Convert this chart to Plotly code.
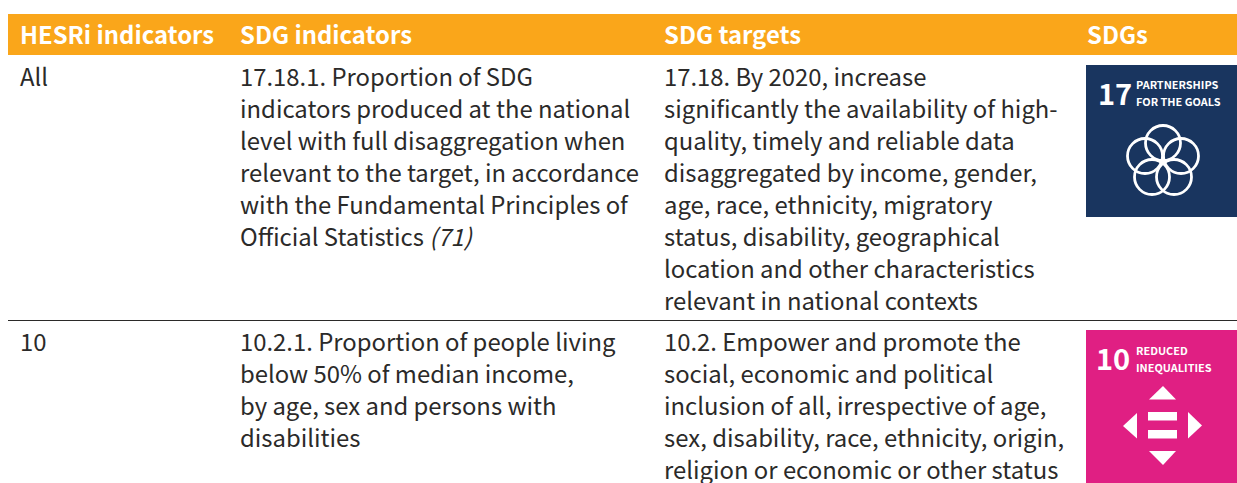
import plotly.graph_objects as go

PAGE_W, PAGE_H = 1237, 483
FONT = "Noto Sans CJK JP"
INK = "#2b2a29"
ORANGE = "#faa61a"
NAVY = "#19355f"
PINK = "#e01f83"

headers = ["HESRi indicators", "SDG indicators", "SDG targets", "SDGs"]
column_x = [19, 239, 662.5, 1086]

row1_hesri = ["All"]
row1_indicator = [
    "17.18.1. Proportion of SDG",
    "indicators produced at the national",
    "level with full disaggregation when",
    "relevant to the target, in accordance",
    "with the Fundamental Principles of",
    "Official Statistics <i>(71)</i>",
]
row1_target = [
    "17.18. By 2020, increase",
    "significantly the availability of high-",
    "quality, timely and reliable data",
    "disaggregated by income, gender,",
    "age, race, ethnicity, migratory",
    "status, disability, geographical",
    "location and other characteristics",
    "relevant in national contexts",
]
row2_hesri = ["10"]
row2_indicator = [
    "10.2.1. Proportion of people living",
    "below 50% of median income,",
    "by age, sex and persons with",
    "disabilities",
]
row2_target = [
    "10.2. Empower and promote the",
    "social, economic and political",
    "inclusion of all, irrespective of age,",
    "sex, disability, race, ethnicity, origin,",
    "religion or economic or other status",
]

ROW1_Y, ROW2_Y, LINE = 75, 340, 32
FS = 23.85

fig = go.Figure()
fig.add_trace(go.Scatter(x=[0, PAGE_W], y=[0, PAGE_H], mode="markers",
                         marker=dict(opacity=0), hoverinfo="skip", showlegend=False))


def text(x, y, s, size=FS, color=INK, bold=False):
    fig.add_annotation(x=x, y=y, text=f"<b>{s}</b>" if bold else s, showarrow=False,
                       xanchor="left", yanchor="middle", align="left", borderpad=0,
                       font=dict(family=FONT, size=size, color=color))


def rect(x0, y0, x1, y1, color):
    fig.add_shape(type="rect", x0=x0, y0=y0, x1=x1, y1=y1, fillcolor=color, line_width=0)


def poly(points, color="white"):
    path = "M" + " L".join(f"{x},{y}" for x, y in points) + " Z"
    fig.add_shape(type="path", path=path, fillcolor=color, line_width=0)


# header band
rect(8, 14, PAGE_W, 55, ORANGE)
for x, h in zip(column_x, headers):
    text(x, 33, h, color="white", bold=True)

# body text
for col, lines, y0 in [
    (0, row1_hesri, ROW1_Y), (1, row1_indicator, ROW1_Y), (2, row1_target, ROW1_Y),
    (0, row2_hesri, ROW2_Y), (1, row2_indicator, ROW2_Y), (2, row2_target, ROW2_Y),
]:
    for i, s in enumerate(lines):
        text(column_x[col], y0 + i * LINE, s)

# rule between rows
fig.add_shape(type="line", x0=8, x1=PAGE_W, y0=320.5, y1=320.5, line=dict(color="#2b2a29", width=1))

# SDG 17 tile
rect(1086, 65, PAGE_W, 217, NAVY)
text(1097, 92, "17", size=29, color="white", bold=True)
text(1135, 84, "PARTNERSHIPS", size=10.9, color="white", bold=True)
text(1135, 101, "FOR THE GOALS", size=10.9, color="white", bold=True)
for cx, cy in [(1163, 143), (1181, 156), (1174, 177), (1152, 177), (1145, 156)]:
    fig.add_shape(type="circle", x0=cx - 17.5, x1=cx + 17.5, y0=cy - 17.5, y1=cy + 17.5,
                  line=dict(color="white", width=2.8), fillcolor="rgba(0,0,0,0)")

# SDG 10 tile
rect(1086, 330, PAGE_W, PAGE_H, PINK)
text(1095, 357, "10", size=29, color="white", bold=True)
text(1135, 350, "REDUCED", size=10.9, color="white", bold=True)
text(1135, 367, "INEQUALITIES", size=10.9, color="white", bold=True)
poly([(1163, 386), (1176, 399.5), (1149, 399.5)])
poly([(1137, 413), (1137, 438.5), (1123, 426)])
poly([(1188, 412), (1188, 438.5), (1202, 425.5)])
poly([(1149, 451), (1176, 451), (1163, 465)])
rect(1148, 412, 1177, 420.5, "white")
rect(1148, 430, 1177, 438.5, "white")

fig.update_layout(
    width=PAGE_W, height=PAGE_H, autosize=False,
    margin=dict(l=0, r=0, t=0, b=0),
    paper_bgcolor="white", plot_bgcolor="white",
    showlegend=False,
    xaxis=dict(range=[0, PAGE_W], visible=False, fixedrange=True),
    yaxis=dict(range=[PAGE_H, 0], visible=False, fixedrange=True),
)
fig.write_html("out.html", config={"displayModeBar": False},
               default_width=f"{PAGE_W}px", default_height=f"{PAGE_H}px",
               post_script="document.body.style.margin='0';document.documentElement.style.overflow='hidden';")
